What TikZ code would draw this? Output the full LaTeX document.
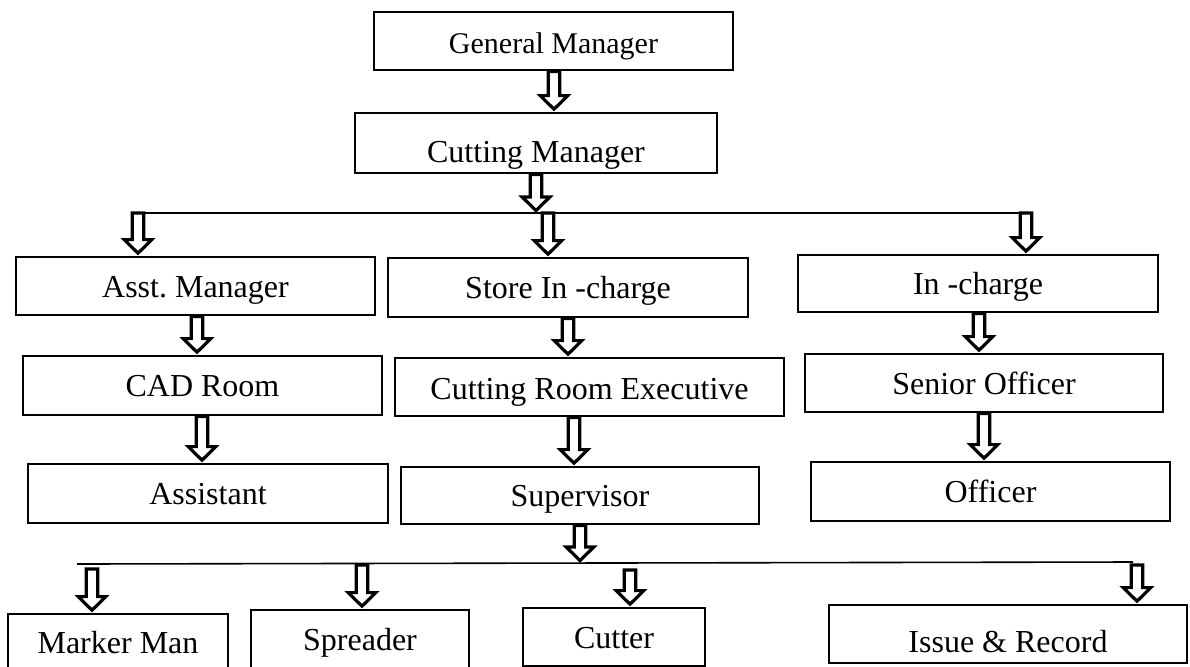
\documentclass[tikz,border=0pt]{standalone}
\usepackage{fontspec}
\setmainfont{Liberation Serif}
\usetikzlibrary{calc}
\frenchspacing
\newcommand\blockarr[2]{%
  \draw[barrow] let \p1=#1, \p2=#2 in
    (\x1-2.9pt,\y1) -- (\x1-2.9pt,\y2+8pt) -- (\x1-6.9pt,\y2+8pt) --
    (\x1,\y2+1.2pt) -- (\x1+6.9pt,\y2+8pt) -- (\x1+2.9pt,\y2+8pt) --
    (\x1+2.9pt,\y1) -- cycle;}
\begin{document}
\begin{tikzpicture}[x=0.5pt,y=-0.5pt,
  box/.style 2 args={draw, line width=1.4pt, inner sep=0pt,
    font=\fontsize{16}{19}\selectfont, text height=10.5pt, text depth=0pt,
    minimum width=#1*0.5pt, minimum height=#2*0.5pt},
  barrow/.style={draw, fill=white, line width=1.6pt, line join=miter},
  hline/.style={line width=0.8pt}]
\useasboundingbox (0,0) rectangle (1190,666);

% boxes
\node[box={359}{58}, font=\fontsize{15}{18}\selectfont, text height=12pt] (gm) at (553.5,41) {General Manager};
\node[box={362}{60}, text height=19pt] (cm) at (536,143) {Cutting Manager};
\node[box={359}{58}, text height=11pt] (am) at (195.5,286) {Asst. Manager};
\node[box={360}{59}] (si) at (568,287.5) {Store In -charge};
\node[box={360}{57}] (ic) at (978,283.5) {In -charge};
\node[box={359}{59}] (cad) at (202.5,385.5) {CAD Room};
\node[box={389}{58}, text height=12pt] (cre) at (589.5,387) {Cutting Room Executive};
\node[box={358}{58}, text height=11pt] (so) at (984,383) {Senior Officer};
\node[box={360}{59}] (as) at (208,493.5) {Assistant};
\node[box={358}{57}] (sup) at (580,495.5) {Supervisor};
\node[box={359}{59}] (of) at (990.5,491.5) {Officer};
\node[box={220}{58}, text height=10pt] (mm) at (118,643) {Marker Man};
\node[box={218}{58}, text height=11pt] (sp) at (360,639) {Spreader};
\node[box={182}{58}, text height=11pt] (cu) at (614,637) {Cutter};
\node[box={358}{58}, text height=18pt] (ir) at (1008,634) {Issue \& Record};

% branch lines
\coordinate (l1a) at (135,213);
\coordinate (l1b) at (1020,213);
\draw[hline] (l1a) -- (l1b);
\coordinate (l2a) at (77,564);
\coordinate (l2b) at (1133,562);
\draw[hline] (l2a) -- (l2b);

% start points below the lower line
\coordinate (mmtop) at (92,569);
\coordinate (sptop) at (362,565);
\coordinate (cutop) at (630,570);
\coordinate (irtop) at (1137,565);

% block arrows
\blockarr{(554,0 |- gm.south)}{(554,0 |- cm.north)}
\blockarr{(536,0 |- cm.south)}{(536,0 |- l1a)}
\blockarr{(138,0 |- l1a)}{(138,0 |- am.north)}
\blockarr{(548,0 |- l1a)}{(548,0 |- si.north)}
\blockarr{(1026,0 |- l1a)}{(1026,0 |- ic.north)}
\blockarr{(197,0 |- am.south)}{(197,0 |- cad.north)}
\blockarr{(202,0 |- cad.south)}{(202,0 |- as.north)}
\blockarr{(568,0 |- si.south)}{(568,0 |- cre.north)}
\blockarr{(574,0 |- cre.south)}{(574,0 |- sup.north)}
\blockarr{(979,0 |- ic.south)}{(979,0 |- so.north)}
\blockarr{(984,0 |- so.south)}{(984,0 |- of.north)}
\blockarr{(580,0 |- sup.south)}{(580,563)}
\blockarr{(mmtop)}{(mmtop |- mm.north)}
\blockarr{(sptop)}{(sptop |- sp.north)}
\blockarr{(cutop)}{(cutop |- cu.north)}
\blockarr{(irtop)}{(irtop |- ir.north)}
\end{tikzpicture}
\end{document}
